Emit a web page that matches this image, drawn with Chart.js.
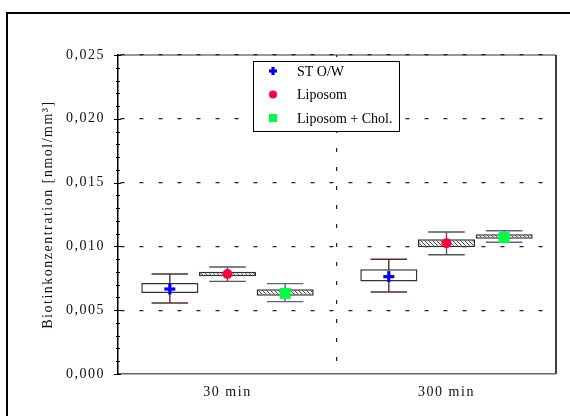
<!DOCTYPE html>
<html>
<head>
<meta charset="utf-8">
<script src="https://cdn.jsdelivr.net/npm/chart.js@4.4.1/dist/chart.umd.min.js"></script>
<style>
  html, body { margin: 0; padding: 0; background: #fff; }
  #wrap { width: 570px; height: 416px; }
</style>
</head>
<body>
<div id="wrap"><canvas id="boxChart" width="570" height="416"></canvas></div>
<script>
// values
const categories = ["30 min", "300 min"];
const seriesNames = ["ST O/W", "Liposom", "Liposom + Chol."];

const stMean = [0.00666, 0.00763];
const stQ1 = [0.00635, 0.00724];
const stQ3 = [0.00713, 0.00820];
const stMin = [0.00556, 0.00643];
const stMax = [0.00784, 0.00899];

const lipMean = [0.00784, 0.01024];
const lipQ1 = [0.00766, 0.00993];
const lipQ3 = [0.00802, 0.01056];
const lipMin = [0.00726, 0.00935];
const lipMax = [0.00839, 0.01113];

const cholMean = [0.00632, 0.01071];
const cholQ1 = [0.00614, 0.01060];
const cholQ3 = [0.00664, 0.01095];
const cholMin = [0.00567, 0.01032];
const cholMax = [0.00708, 0.01123];

const yMin = 0, yMax = 0.025, yStep = 0.005, yMinorStep = 0.001;

Chart.defaults.font.family = "'Liberation Serif', 'Times New Roman', serif";
Chart.defaults.font.size = 14;
Chart.defaults.color = "#111";

// hatched fill for the liposome boxes
function makeHatch() {
    const c = document.createElement("canvas");
    c.width = 4; c.height = 4;
    const g = c.getContext("2d");
    g.fillStyle = "#ececec";
    g.fillRect(0, 0, 4, 4);
    g.strokeStyle = "#555";
    g.lineWidth = 1;
    g.beginPath();
    g.moveTo(0, 0); g.lineTo(4, 4);
    g.moveTo(-1, 3); g.lineTo(1, 5);
    g.moveTo(3, -1); g.lineTo(5, 1);
    g.stroke();
    return g.createPattern(c, "repeat");
}
const hatch = makeHatch();

function drawMarker(ctx, type, x, y, color, s) {
    ctx.fillStyle = color;
    if (type === "plus") {
        ctx.fillRect(x - s / 2, y - 1.6, s, 3.2);
        ctx.fillRect(x - 1.6, y - s / 2, 3.2, s);
    } else if (type === "circle") {
        ctx.beginPath();
        ctx.arc(x, y, s / 2, 0, Math.PI * 2);
        ctx.fill();
    } else {
        ctx.fillRect(x - s / 2, y - s / 2, s, s);
    }
}

const extras = [
    { mean: stMean, low: stMin, high: stMax, whisker: "#5a2b2b", marker: "plus", color: "#0000ff" },
    { mean: lipMean, low: lipMin, high: lipMax, whisker: "#555555", marker: "circle", color: "#ff0040" },
    { mean: cholMean, low: cholMin, high: cholMax, whisker: "#5d6390", marker: "square", color: "#00ff40" }
];

// ✅ background, outer frame and plot frame
const framePlugin = {
    id: "frame",
    beforeDraw(chart) {
        const ctx = chart.ctx, a = chart.chartArea;
        ctx.save();
        ctx.fillStyle = "#fff";
        ctx.fillRect(0, 0, chart.width, chart.height);
        ctx.strokeStyle = "#000";
        ctx.lineWidth = 2;
        ctx.strokeRect(7, 13, 620, 460);
        ctx.lineWidth = 1.5;
        ctx.strokeStyle = "#777";
        ctx.beginPath();
        ctx.moveTo(a.left, a.top); ctx.lineTo(a.right, a.top);
        ctx.stroke();
        ctx.strokeStyle = "#000";
        ctx.beginPath();
        ctx.moveTo(a.right, a.top); ctx.lineTo(a.right, a.bottom);
        ctx.stroke();
        ctx.restore();
        ctx.letterSpacing = "1.5px";
    },
    afterDraw(chart) {
        // minor + major ticks on the y axis
        const ctx = chart.ctx, y = chart.scales.y, a = chart.chartArea;
        ctx.save();
        ctx.strokeStyle = "#000";
        ctx.lineWidth = 1;
        const n = Math.round((yMax - yMin) / yMinorStep);
        for (let k = 0; k <= n; k++) {
            const v = yMin + k * yMinorStep;
            const py = Math.round(y.getPixelForValue(v)) + 0.5;
            const major = k % Math.round(yStep / yMinorStep) === 0;
            ctx.beginPath();
            ctx.moveTo(a.left - (major ? 4 : 2), py);
            ctx.lineTo(a.left + (major ? 3 : 2), py);
            ctx.stroke();
        }
        ctx.restore();
    }
};

// ✅ whiskers under the boxes, mean markers on top
const boxPlotPlugin = {
    id: "boxExtras",
    beforeDatasetsDraw(chart) {
        const ctx = chart.ctx, y = chart.scales.y;
        ctx.save();
        chart.data.datasets.forEach((ds, d) => {
            const ex = extras[d];
            chart.getDatasetMeta(d).data.forEach((el, i) => {
                const yl = y.getPixelForValue(ex.low[i]);
                const yh = y.getPixelForValue(ex.high[i]);
                const cw = el.width * 0.32;
                ctx.strokeStyle = ex.whisker;
                ctx.lineWidth = 1.4;
                ctx.beginPath();
                ctx.moveTo(el.x, yh); ctx.lineTo(el.x, yl);
                ctx.moveTo(el.x - cw, yh); ctx.lineTo(el.x + cw, yh);
                ctx.moveTo(el.x - cw, yl); ctx.lineTo(el.x + cw, yl);
                ctx.stroke();
            });
        });
        ctx.restore();
    },
    afterDatasetsDraw(chart) {
        const ctx = chart.ctx, y = chart.scales.y;
        ctx.save();
        chart.data.datasets.forEach((ds, d) => {
            const ex = extras[d];
            chart.getDatasetMeta(d).data.forEach((el, i) => {
                drawMarker(ctx, ex.marker, el.x, y.getPixelForValue(ex.mean[i]), ex.color, ex.marker === "circle" ? 10 : 11);
            });
        });
        ctx.restore();
    }
};

// ✅ legend box inside the plot
const legendPlugin = {
    id: "boxLegend",
    afterDraw(chart) {
        const ctx = chart.ctx, a = chart.chartArea;
        const left = a.left + 135, top = a.top + 6, w = 146, h = 70;
        ctx.save();
        ctx.letterSpacing = "0px";
        ctx.fillStyle = "#fff";
        ctx.fillRect(left, top, w, h);
        ctx.strokeStyle = "#000";
        ctx.lineWidth = 1;
        ctx.strokeRect(left + 0.5, top + 0.5, w, h);
        ctx.font = "14px 'Liberation Serif', 'Times New Roman', serif";
        ctx.textBaseline = "middle";
        ctx.textAlign = "left";
        seriesNames.forEach((name, i) => {
            const ry = top + 10 + i * 23.5;
            drawMarker(ctx, extras[i].marker, left + 20, ry, extras[i].color, 8);
            ctx.fillStyle = "#000";
            ctx.fillText(name, left + 44, ry + 1);
        });
        ctx.restore();
    }
};

new Chart(document.getElementById("boxChart"), {
    type: "bar",
    data: {
        labels: categories,
        datasets: [
            { label: seriesNames[0], data: categories.map((c, i) => [stQ1[i], stQ3[i]]), backgroundColor: "#fff" },
            { label: seriesNames[1], data: categories.map((c, i) => [lipQ1[i], lipQ3[i]]), backgroundColor: hatch },
            { label: seriesNames[2], data: categories.map((c, i) => [cholQ1[i], cholQ3[i]]), backgroundColor: hatch }
        ]
    },
    options: {
        responsive: false,
        devicePixelRatio: 1,
        animation: false,
        layout: { padding: { left: 0, right: 14, top: 55, bottom: 0 } },
        datasets: {
            bar: {
                borderColor: "#333",
                borderWidth: 1.5,
                borderSkipped: false,
                categoryPercentage: 0.79,
                barPercentage: 0.99
            }
        },
        plugins: {
            legend: { display: false },
            tooltip: { enabled: false }
        },
        scales: {
            x: {
                offset: true,
                grid: {
                    offset: true,
                    drawTicks: false,
                    color: ctx => ctx.index === 1 ? "#222" : "rgba(0,0,0,0)",
                    lineWidth: 1.2
                },
                border: { color: "#666", width: 1.5, dash: [4, 15], dashOffset: 2 },
                ticks: { padding: 10, color: "#111" },
                afterFit(scale) { scale.height = 42; }
            },
            y: {
                min: yMin,
                max: yMax,
                ticks: {
                    stepSize: yStep,
                    padding: 13,
                    color: "#111",
                    callback: v => v.toFixed(3).replace(".", ",")
                },
                grid: {
                    drawTicks: false,
                    color: ctx => ctx.tick && ctx.tick.value > 0 ? "#222" : "rgba(0,0,0,0)",
                    lineWidth: 1.2
                },
                border: { color: "#000", width: 1.5, dash: [4, 15], dashOffset: -2 },
                title: {
                    display: true,
                    text: "Biotinkonzentration [nmol/mm³]",
                    color: "#111",
                    font: { size: 14 },
                    padding: { top: 40, bottom: 0 }
                },
                afterFit(scale) { scale.width = 118; }
            }
        }
    },
    plugins: [framePlugin, boxPlotPlugin, legendPlugin]
});
</script>
</body>
</html>
